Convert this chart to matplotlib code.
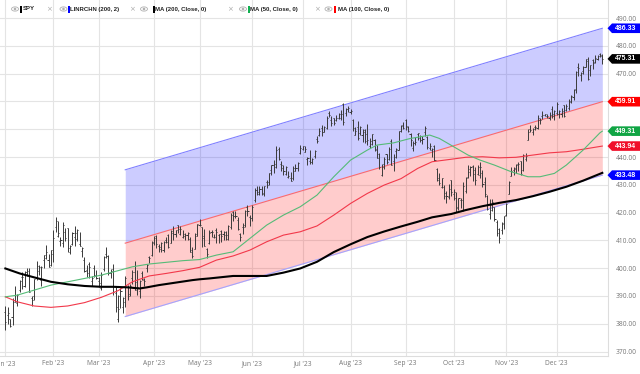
import numpy as np
import pandas as pd
import matplotlib
matplotlib.use('Agg')
import matplotlib.pyplot as plt
from matplotlib.collections import LineCollection
from matplotlib.patches import Polygon, Rectangle, Ellipse
from matplotlib.transforms import blended_transform_factory

# trading days of 2023 (x axis is trading-day index)
holidays = ['2023-01-16', '2023-02-20', '2023-04-07', '2023-05-29', '2023-06-19',
            '2023-07-04', '2023-09-04', '2023-11-23', '2023-12-25']
days = pd.bdate_range('2023-01-03', '2023-12-29', freq='C', holidays=holidays)

# SPY daily OHLC, Jan..Dec
opens = [384.4, 383.2, 381.7, 382.6, 390.4, 387.3, 392.2, 396.7, 393.6, 398.5, 399.0, 389.4, 390.1, 396.7, 398.9, 395.9, 403.1, 403.7, 402.8, 401.1,
         405.2, 414.9, 411.6, 409.8, 408.9, 413.1, 414.4, 405.9, 408.7, 411.2, 410.4, 408.8, 406.1, 403.1, 399.5, 401.6, 395.4, 399.9, 397.2,
         395.4, 392.7, 399.7, 405.0, 404.4, 398.4, 399.7, 390.9, 381.8, 389.9, 385.9, 387.8, 393.2, 390.8, 396.4, 398.7, 395.1, 391.8, 398.1, 395.8, 399.9, 404.0, 404.7,
         408.9, 411.6, 407.9, 406.8, 406.6, 410.3, 411.9, 409.2, 412.8, 412.4, 415.6, 412.2, 411.2, 412.2, 411.9, 410.6, 406.7, 407.0, 411.5,
         415.5, 414.8, 411.4, 406.9, 408.9, 412.9, 411.1, 413.9, 411.9, 413.4, 412.2, 411.9, 411.9, 414.9, 420.2, 418.6, 417.3, 412.4, 414.7, 415.4, 422.0, 418.3,
         418.1, 424.5, 428.3, 426.7, 428.4, 426.6, 431.0, 430.9, 435.3, 437.0, 436.3, 442.9, 437.5, 436.2, 433.9, 432.9, 432.6, 432.4, 435.0, 435.9, 441.4,
         442.9, 441.9, 439.4, 438.6, 438.2, 440.5, 446.4, 447.9, 450.5, 449.1, 450.5, 455.9, 453.4, 453.9, 453.4, 454.0, 454.1, 459.0, 455.9, 457.4,
         456.3, 453.3, 448.0, 450.7, 448.7, 448.1, 449.9, 448.2, 444.0, 444.7, 446.3, 442.5, 441.2, 433.4, 437.6, 441.2, 439.3, 445.9, 438.7, 442.2, 442.7, 449.5, 451.7,
         453.2, 450.7, 448.4, 443.1, 444.9, 448.2, 447.0, 446.2, 449.1, 447.1, 443.1, 442.7, 444.0, 435.7, 432.4, 429.2, 429.2, 427.1, 425.5, 431.7,
         426.6, 425.1, 422.1, 424.4, 421.0, 427.6, 432.9, 435.6, 436.9, 435.2, 433.8, 433.4, 434.2, 430.9, 425.9, 419.6, 422.6, 421.9, 416.5, 414.2, 413.6, 416.2,
         419.2, 426.6, 433.1, 435.5, 435.7, 437.6, 438.4, 435.2, 439.2, 446.3, 450.1, 448.9, 450.8, 450.5, 453.2, 454.9, 455.1, 454.7, 454.1, 457.2, 455.5,
         455.8, 455.6, 455.3, 458.8, 456.9, 457.5, 459.7, 461.6, 464.5, 472.5, 469.5, 470.9, 472.5, 474.7, 471.4, 474.9, 474.1, 475.4, 476.9, 476.5]
highs = [386.4, 385.9, 381.8, 389.3, 393.7, 390.7, 395.6, 398.5, 399.1, 400.2, 400.1, 390.0, 396.0, 402.6, 401.2, 400.7, 404.9, 408.2, 405.1, 406.5,
         413.7, 418.3, 416.9, 411.3, 416.5, 414.5, 414.6, 408.4, 412.9, 415.1, 414.1, 412.9, 407.5, 404.1, 401.1, 402.2, 397.2, 401.3, 399.3,
         396.7, 398.7, 404.5, 407.5, 404.7, 399.7, 401.5, 393.2, 390.4, 393.0, 389.5, 397.1, 394.0, 394.2, 399.4, 402.5, 399.3, 395.8, 398.9, 396.5, 401.6, 404.3, 409.7,
         411.4, 411.9, 408.7, 409.5, 409.7, 411.2, 412.2, 413.8, 415.1, 413.9, 415.7, 415.1, 413.7, 412.7, 413.1, 411.2, 407.8, 412.7, 415.9,
         417.6, 414.8, 414.2, 407.3, 413.7, 413.7, 412.4, 414.5, 412.4, 413.6, 413.4, 413.2, 415.6, 419.7, 420.7, 420.4, 418.4, 412.8, 416.2, 421.0, 422.6, 419.2,
         422.9, 428.7, 429.6, 429.6, 429.6, 429.6, 431.9, 434.2, 437.3, 439.1, 443.9, 443.6, 438.4, 437.2, 436.6, 435.1, 434.6, 436.8, 437.4, 438.3, 444.3,
         444.1, 443.9, 440.1, 442.6, 439.8, 442.6, 447.5, 450.4, 451.4, 451.0, 454.9, 456.4, 454.9, 454.0, 455.1, 455.8, 456.9, 459.4, 457.8, 458.2,
         457.3, 453.6, 450.8, 452.9, 451.0, 450.0, 450.0, 451.8, 446.7, 448.3, 446.6, 444.2, 441.4, 437.6, 439.9, 441.2, 443.7, 446.6, 441.2, 443.4, 449.4, 451.7, 452.6,
         453.7, 451.1, 448.5, 445.6, 447.1, 448.8, 448.0, 447.5, 451.1, 447.5, 444.9, 443.3, 444.4, 435.9, 434.1, 432.4, 429.8, 427.7, 430.3, 431.9,
         428.6, 427.4, 425.4, 425.4, 431.1, 432.9, 437.2, 436.6, 437.3, 436.4, 437.1, 438.1, 435.2, 432.8, 426.5, 424.8, 424.8, 421.9, 417.3, 414.6, 416.7, 418.7,
         423.5, 431.2, 436.3, 436.4, 437.6, 438.1, 438.7, 441.0, 441.3, 450.1, 451.4, 450.3, 451.4, 455.1, 454.1, 456.4, 455.6, 455.5, 456.3, 458.3, 456.8,
         459.7, 456.9, 457.6, 458.8, 458.9, 460.7, 462.2, 464.3, 470.8, 473.7, 470.7, 472.9, 475.2, 475.9, 473.2, 475.4, 476.6, 476.7, 477.6, 477.0]
lows = [377.8, 380.0, 378.8, 379.4, 387.7, 386.4, 391.4, 392.4, 393.3, 397.1, 391.3, 386.3, 388.4, 395.7, 397.6, 393.6, 400.0, 403.4, 400.3, 400.8,
        402.4, 412.9, 411.1, 408.1, 407.6, 409.9, 405.8, 405.0, 408.2, 408.0, 409.9, 408.1, 404.1, 398.8, 397.0, 396.3, 393.6, 396.8, 396.2,
        393.4, 392.3, 399.0, 403.8, 397.6, 396.6, 390.5, 384.3, 380.7, 385.8, 383.7, 386.1, 388.6, 390.1, 394.3, 392.1, 390.4, 389.4, 395.6, 393.7, 398.7, 401.8, 404.5,
        408.4, 407.2, 405.9, 405.7, 405.9, 408.9, 407.4, 409.1, 410.1, 411.1, 412.7, 412.1, 410.7, 410.2, 410.0, 405.9, 403.8, 406.9, 411.4,
        415.3, 407.8, 407.9, 403.7, 408.6, 411.3, 410.8, 408.9, 409.0, 409.3, 410.2, 410.3, 410.1, 414.1, 417.1, 417.9, 413.8, 409.9, 412.4, 414.9, 418.7, 415.2,
        416.8, 423.9, 426.4, 426.4, 426.4, 425.8, 428.9, 430.0, 433.7, 434.4, 436.2, 438.9, 435.0, 433.5, 433.6, 432.5, 431.2, 431.9, 434.9, 435.0, 441.1,
        442.6, 441.9, 437.1, 437.4, 437.6, 439.8, 444.9, 447.5, 447.7, 449.0, 450.2, 454.4, 451.1, 451.4, 453.0, 453.8, 453.4, 451.6, 454.9, 456.1,
        455.5, 449.3, 447.9, 446.3, 447.8, 445.3, 444.9, 444.5, 443.4, 444.4, 442.3, 439.7, 435.8, 433.0, 435.6, 437.6, 439.0, 437.0, 435.1, 439.6, 442.5, 449.0, 450.2,
        449.7, 448.9, 443.8, 442.2, 444.5, 446.3, 445.4, 444.7, 447.7, 442.9, 442.5, 439.9, 438.4, 431.2, 429.9, 428.9, 425.0, 423.3, 425.0, 425.9,
        424.5, 420.2, 420.8, 421.8, 420.6, 427.0, 432.5, 433.2, 431.2, 429.9, 433.6, 432.5, 429.1, 425.7, 421.1, 417.6, 420.7, 417.0, 411.6, 409.2, 412.2, 414.2,
        418.6, 426.6, 433.0, 433.7, 434.3, 434.9, 433.4, 434.9, 438.7, 446.1, 448.9, 447.9, 449.7, 450.2, 451.9, 453.8, 454.7, 454.1, 453.5, 454.2, 453.3,
        455.1, 453.9, 454.5, 454.5, 456.6, 457.0, 459.5, 460.6, 463.0, 469.3, 467.4, 469.9, 472.5, 467.8, 469.3, 471.7, 473.7, 474.9, 476.1, 473.3]
closes = [380.8, 383.8, 379.3, 388.0, 387.7, 390.5, 395.5, 396.9, 398.5, 397.7, 391.5, 388.5, 396.0, 400.7, 400.4, 400.4, 404.8, 405.9, 400.6, 406.5,
          410.8, 416.9, 412.6, 410.1, 415.4, 410.8, 407.2, 408.1, 412.8, 412.7, 413.9, 408.1, 407.1, 398.9, 398.3, 400.5, 396.3, 397.5, 396.4,
          394.5, 397.6, 404.1, 404.4, 398.2, 398.9, 391.5, 385.9, 385.4, 391.8, 389.1, 396.4, 390.0, 393.5, 398.6, 392.1, 393.3, 395.5, 396.2, 395.5, 401.2, 403.5, 409.4,
          411.0, 408.6, 407.5, 409.1, 409.5, 409.5, 407.8, 413.2, 412.4, 413.8, 414.1, 414.2, 411.7, 412.1, 412.5, 405.9, 404.4, 412.3, 415.8,
          415.7, 410.9, 408.1, 405.1, 412.7, 412.9, 411.1, 413.0, 412.3, 411.7, 413.0, 410.4, 415.3, 419.3, 418.8, 418.9, 414.2, 411.2, 414.9, 420.4, 420.4, 417.9,
          422.1, 428.2, 427.4, 428.5, 426.9, 429.5, 430.0, 434.1, 437.1, 437.5, 442.6, 439.3, 437.2, 434.9, 436.5, 433.1, 431.2, 436.1, 436.0, 437.9, 443.3,
          443.9, 443.0, 439.5, 438.3, 439.4, 442.3, 445.7, 449.5, 449.0, 450.8, 454.1, 455.2, 452.1, 452.3, 454.2, 455.5, 455.5, 452.5, 457.1, 457.8,
          456.6, 450.3, 449.2, 446.9, 450.9, 449.0, 445.9, 446.0, 445.6, 448.2, 443.0, 439.7, 436.3, 436.3, 439.3, 438.2, 443.0, 437.1, 440.0, 442.8, 449.3, 451.0, 450.4,
          451.2, 449.4, 446.3, 444.9, 445.5, 448.6, 446.0, 446.6, 450.4, 443.5, 443.9, 442.9, 438.8, 431.6, 430.6, 432.3, 426.0, 426.1, 428.6, 427.5,
          427.5, 421.6, 425.1, 424.6, 429.6, 432.4, 434.7, 436.5, 433.9, 431.7, 436.3, 436.3, 430.4, 426.8, 421.4, 420.8, 423.8, 417.8, 412.8, 410.7, 415.8, 418.6,
          423.0, 431.0, 435.1, 435.9, 437.1, 437.6, 434.0, 440.9, 440.5, 449.0, 449.7, 450.2, 450.8, 454.2, 453.3, 455.2, 455.5, 454.6, 455.1, 454.7, 456.4,
          459.1, 456.7, 456.4, 454.7, 458.3, 460.2, 462.0, 464.2, 470.6, 471.9, 470.2, 472.4, 475.1, 468.1, 473.0, 473.8, 475.8, 476.5, 476.6, 475.31]

# moving averages (trading-day index, value)
ma200_idx = [0, 6, 12, 19, 26, 33, 40, 45, 51, 56, 59, 64, 71, 78, 81, 85, 95, 109, 116, 123,
             130, 137, 144, 151, 158, 165, 172, 178, 186, 192, 199, 206, 213, 220, 227, 234, 241, 249]
ma200_val = [399.9, 398.1, 396.7, 395.1, 394.2, 393.6, 393.3, 393.3, 393.1, 392.7, 393.1, 393.9, 394.8, 395.7, 396.0, 396.3, 397.2, 397.2, 398.4, 399.9,
             402.3, 405.8, 408.6, 411.2, 413.2, 415.0, 416.7, 418.3, 419.5, 420.9, 422.3, 423.5, 424.5, 425.9, 427.5, 429.3, 431.5, 434.3]
ma50_idx = [0, 5, 12, 19, 26, 33, 40, 47, 53, 60, 67, 74, 81, 88, 95, 102, 109, 116, 123, 130,
            137, 144, 151, 155, 162, 169, 172, 177, 181, 187, 193, 198, 204, 211, 218, 223, 229, 234, 241, 248, 249]
ma50_val = [389.7, 390.3, 392.1, 393.9, 395.1, 396.3, 397.5, 399.1, 400.5, 401.5, 402.1, 402.7, 403.1, 404.7, 405.9, 410.7, 415.5, 419.1, 422.1, 426.3,
            432.9, 438.9, 442.5, 444.3, 445.1, 446.7, 447.1, 447.9, 446.7, 443.7, 440.7, 438.9, 437.1, 434.7, 432.9, 432.9, 434.1, 437.1, 442.5, 448.7, 449.31]
ma100_idx = [0, 5, 12, 19, 26, 33, 40, 47, 53, 60, 67, 74, 81, 88, 95, 102, 109, 116, 123, 130,
             137, 144, 151, 158, 165, 172, 178, 186, 192, 199, 206, 213, 220, 227, 234, 241, 249]
ma100_val = [389.7, 387.9, 386.4, 385.9, 386.4, 387.6, 389.5, 391.9, 395.1, 397.2, 398.1, 399.1, 400.3, 402.9, 404.4, 406.5, 409.5, 411.9, 413.1, 415.2,
             419.1, 423.3, 426.9, 429.9, 432.2, 435.9, 438.3, 439.2, 439.9, 440.1, 439.7, 439.9, 440.7, 441.5, 441.9, 442.8, 443.94]

# linear regression channel (200, 2)
chan_idx = [50, 249]
chan_upper = [435.4, 486.33]
chan_mid = [409.0, 459.91]
chan_lower = [382.6, 433.48]

W, H = 640, 374
fig = plt.figure(figsize=(W / 100, H / 100), dpi=100)
ax = fig.add_axes([0, 1 - 356 / H, 608.3 / W, 356 / H])
ax.set_xlim(-2.23, 251.5)
ax.set_ylim(368.4, 496.5)

# channel
ax.fill_between(chan_idx, chan_mid, chan_upper, color='#0000ff', alpha=0.2, lw=0, zorder=1)
ax.fill_between(chan_idx, chan_lower, chan_mid, color='#ff0000', alpha=0.2, lw=0, zorder=1)
ax.plot(chan_idx, chan_upper, color='#8080ff', lw=0.8, zorder=2)
ax.plot(chan_idx, chan_mid, color='#ff6a6a', lw=0.8, zorder=2)
ax.plot(chan_idx, chan_lower, color='#a4a4ff', lw=0.8, zorder=2)

# OHLC bars
x = np.arange(len(days))
o, hi, lo, c = (np.array(v) for v in (opens, highs, lows, closes))
segs = []
for i in x:
    segs.append([(i, lo[i]), (i, hi[i])])
    segs.append([(i - 0.45, o[i]), (i, o[i])])
    segs.append([(i, c[i]), (i + 0.45, c[i])])
ax.add_collection(LineCollection(segs, colors='#3a3a3a', linewidths=0.7, zorder=3))

# moving averages
ax.plot(ma100_idx, ma100_val, color='#f2384a', lw=0.8, zorder=4)
ax.plot(ma50_idx, ma50_val, color='#55bb77', lw=0.8, zorder=4)
ax.plot(ma200_idx, ma200_val, color='black', lw=1.5, zorder=4)

# axes styling
month_pos = [int(np.argmax(days.month == m)) for m in range(1, 13)]
month_lab = [days[p].strftime("%b '%y") for p in month_pos]
ax.set_xticks(month_pos)
ax.set_xticklabels(month_lab)
yt = np.arange(370, 491, 10)
ax.set_yticks(yt)
ax.set_yticklabels([f'{v:.2f}' for v in yt])
ax.yaxis.tick_right()
ax.tick_params(length=0, labelsize=4.8, labelcolor='#777777')
ax.tick_params(axis='x', pad=3.2)
ax.tick_params(axis='y', pad=5.5)
for lab in ax.get_xticklabels() + ax.get_yticklabels():
    lab.set_fontfamily('Open Sans')
ax.grid(True, color='#e4e4e4', lw=0.8)
ax.set_axisbelow(True)
for s in ['left', 'top']:
    ax.spines[s].set_visible(False)
for s in ['right', 'bottom']:
    ax.spines[s].set_color('#dddddd')
    ax.spines[s].set_linewidth(0.8)

# price tags on the right
tags = [(chan_upper[-1], '#0000ff'), (closes[-1], '#000000'), (chan_mid[-1], '#ff0000'),
        (ma50_val[-1], '#10a544'), (ma100_val[-1], '#f0102a'), (chan_lower[-1], '#0000ff')]
tr = blended_transform_factory(fig.transFigure, ax.transData)
hh = 4.8 / (356 / (496.5 - 368.4))
for v, col in tags:
    pts = [(607.5 / W, v), (612 / W, v + hh), (1.0, v + hh), (1.0, v - hh), (612 / W, v - hh)]
    ax.add_patch(Polygon(pts, closed=True, transform=tr, fc=col, ec='none', clip_on=False, zorder=10))
    ax.text(625.5 / W, v, f'{v:.2f}', transform=tr, ha='center', va='center', color='white',
            fontsize=5, fontweight='bold', family='Liberation Sans', clip_on=False, zorder=11)

# legend strip along the top
ly = 1 - 9 / H
items = [(15, 21, 22.5, 'black', 'SPY'),
         (63.5, 68.5, 70.5, '#0000ff', 'LINRCHN (200, 2)'),
         (144, 153.5, 155, 'black', 'MA (200, Close, 0)'),
         (243, 248.5, 250.5, '#10b050', 'MA (50, Close, 0)'),
         (328.5, 335, 338.3, '#ff0000', 'MA (100, Close, 0)')]
for ex, bx, tx, col, name in items:
    fig.add_artist(Ellipse((ex / W, ly), 7 / W, 4.2 / H, transform=fig.transFigure,
                           fc='white', ec='#b0b0b0', lw=0.6))
    fig.add_artist(Ellipse((ex / W, ly), 2.6 / W, 2.6 / H, transform=fig.transFigure,
                           fc='#b0b0b0', ec='none'))
    fig.add_artist(Rectangle(((bx - 1) / W, ly - 3.5 / H), 2 / W, 7 / H,
                             transform=fig.transFigure, fc=col, ec='none'))
    fig.text(tx / W, ly, name, ha='left', va='center', fontsize=4.3, fontweight='bold',
             family='Liberation Sans', color='#222222')
for sx in [49.3, 131.7, 230, 316.7]:
    fig.text(sx / W, ly, '×', ha='center', va='center', fontsize=5, color='#aaaaaa',
             family='DejaVu Sans')

fig.savefig('out.png', dpi=100)
